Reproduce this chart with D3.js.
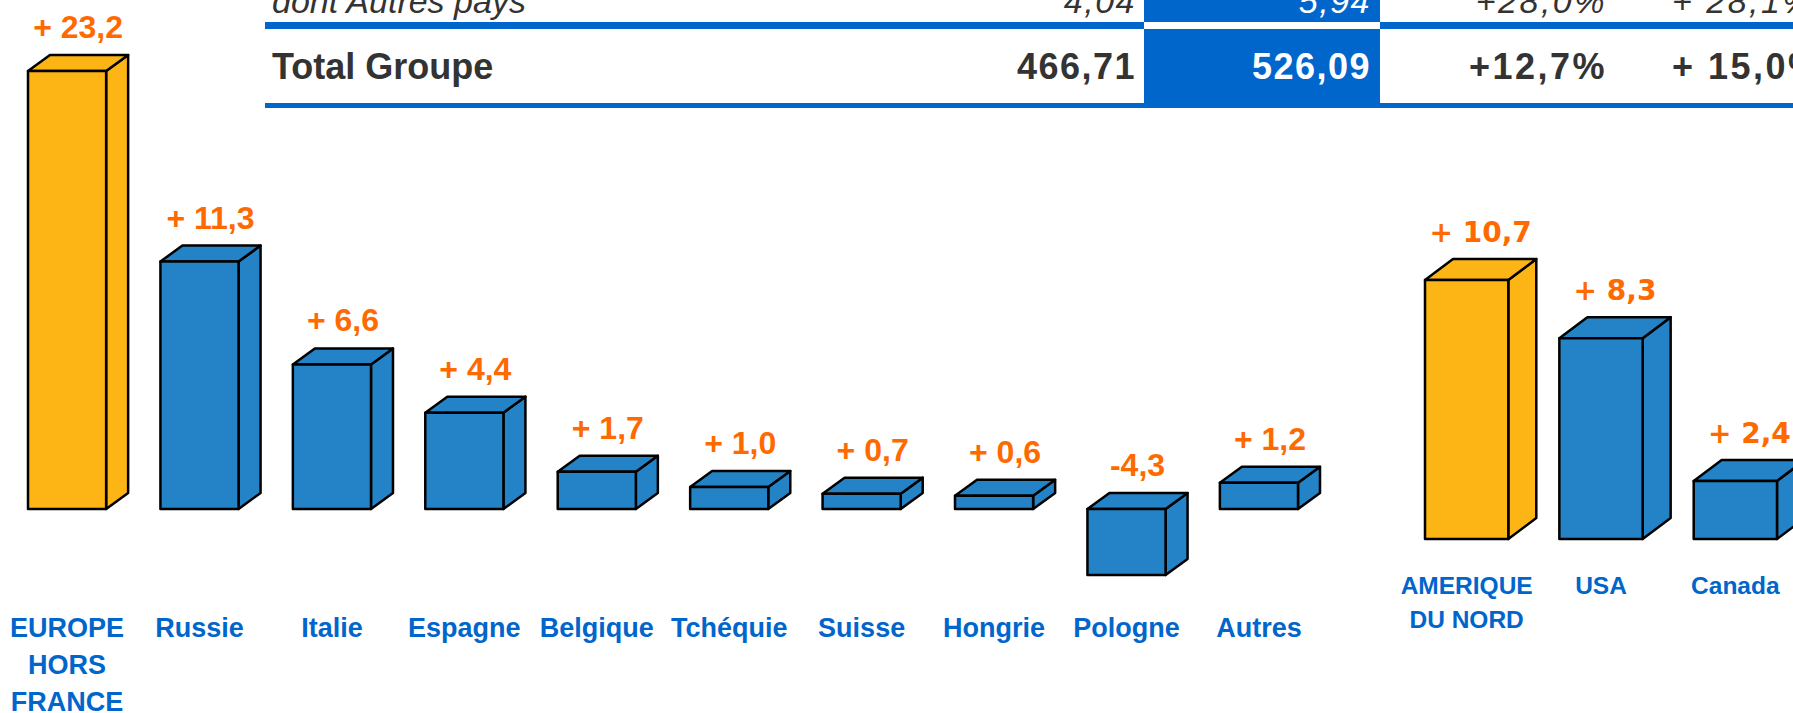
<!DOCTYPE html>
<html>
<head>
<meta charset="utf-8">
<script src="https://cdn.jsdelivr.net/npm/d3@7/dist/d3.min.js"></script>
<style>
  body { margin: 0; background: #fff; }
  svg { display: block; }
</style>
</head>
<body>
<script>
// Europe bars (left block)
const europeCats = ['EUROPE\nHORS\nFRANCE', 'Russie', 'Italie', 'Espagne', 'Belgique', 'Tchéquie', 'Suisse', 'Hongrie', 'Pologne', 'Autres'];
const europeValues = [23.2, 11.3, 6.6, 4.4, 1.7, 1.0, 0.7, 0.6, -4.3, 1.2];
const europeTotal = [true, false, false, false, false, false, false, false, false, false];

// North America bars (right block)
const americaCats = ['AMERIQUE\nDU NORD', 'USA', 'Canada'];
const americaValues = [10.7, 8.3, 2.4];
const americaTotal = [true, false, false];

// table rows at the top (partly cut off)
const tableLabels = ['dont Autres pays', 'Total Groupe'];
const tableCol1 = ['4,04', '466,71'];
const tableCol2 = ['5,94', '526,09'];
const tableCol3 = ['+28,0%', '+12,7%'];
const tableCol4 = ['+ 28,1%', '+ 15,0%'];

const W = 1793, H = 713;
const yellow = '#FDB515', blue = '#2383C6', orange = '#FF6A00', labelBlue = '#0066CC', tableBlue = '#0066CC', grey = '#333333';
const font = "'Liberation Sans', Arial, sans-serif";
const wideFont = "'DejaVu Sans', Verdana, sans-serif";

const svg = d3.select('body')
  .append('svg')
  .attr('width', W)
  .attr('height', H);

// ---- table ----
const table = svg.append('g');

table.append('rect')
  .attr('x', 1144).attr('y', 0)
  .attr('width', 236).attr('height', 22)
  .attr('fill', tableBlue);
table.append('rect')
  .attr('x', 1144).attr('y', 29)
  .attr('width', 236).attr('height', 79)
  .attr('fill', tableBlue);
table.append('rect')
  .attr('x', 265).attr('y', 22)
  .attr('width', 1144 - 265).attr('height', 7)
  .attr('fill', tableBlue);
table.append('rect')
  .attr('x', 1380).attr('y', 22)
  .attr('width', W - 1380).attr('height', 7)
  .attr('fill', tableBlue);
table.append('rect')
  .attr('x', 265).attr('y', 103)
  .attr('width', W - 265).attr('height', 5)
  .attr('fill', tableBlue);

const rowBase = [13, 79];
const rowStyle = [
  { size: 34, weight: 'normal', style: 'italic' },
  { size: 36, weight: 'bold', style: 'normal' },
];

const cols = [
  { vals: tableLabels, x: 272, anchor: 'start', fill: grey, ls: 0 },
  { vals: tableCol1, x: 1136, anchor: 'end', fill: grey, ls: 1.5 },
  { vals: tableCol2, x: 1371, anchor: 'end', fill: '#fff', ls: 1.5 },
  { vals: tableCol3, x: 1607, anchor: 'end', fill: grey, ls: 2.5 },
  { vals: tableCol4, x: 1672, anchor: 'start', fill: grey, ls: 2.5 },
];

cols.forEach(c => {
  table.selectAll(null)
    .data(c.vals)
    .enter()
    .append('text')
    .attr('x', c.x)
    .attr('y', (d, i) => rowBase[i])
    .attr('text-anchor', c.anchor)
    .attr('fill', c.fill)
    .attr('font-family', font)
    .attr('font-size', (d, i) => rowStyle[i].size)
    .attr('font-weight', (d, i) => rowStyle[i].weight)
    .attr('font-style', (d, i) => rowStyle[i].style)
    .attr('letter-spacing', c.ls)
    .text(d => d);
});

// ---- 3D bars ----
function fmt(v) {
  const s = Math.abs(v).toFixed(1).replace('.', ',');
  return v < 0 ? '-' + s : '+ ' + s;
}

function drawBlock(opts) {
  const data = opts.cats.map((c, i) => ({ cat: c, value: opts.values[i], total: opts.total[i] }));
  const x = opts.x, y = opts.y, dx = opts.dx, dy = opts.dy;
  const bw = x.bandwidth();

  const g = svg.append('g');
  const bar = g.selectAll('g.bar')
    .data(data)
    .enter()
    .append('g')
    .attr('class', 'bar');

  const top = d => Math.min(y(d.value), y(0));
  const bot = d => Math.max(y(d.value), y(0));
  const pts = arr => arr.map(p => p.join(',')).join(' ');

  bar.append('polygon')
    .attr('points', d => {
      const x1 = x(d.cat) + bw;
      return pts([[x1, top(d)], [x1 + dx, top(d) - dy], [x1 + dx, bot(d) - dy], [x1, bot(d)]]);
    });

  bar.append('polygon')
    .attr('points', d => {
      const x0 = x(d.cat), x1 = x0 + bw;
      return pts([[x0, top(d)], [x0 + dx, top(d) - dy], [x1 + dx, top(d) - dy], [x1, top(d)]]);
    });

  bar.append('rect')
    .attr('x', d => x(d.cat))
    .attr('y', d => top(d))
    .attr('width', bw)
    .attr('height', d => bot(d) - top(d));

  bar.selectAll('polygon, rect')
    .attr('fill', d => d.total ? yellow : blue)
    .attr('stroke', '#000')
    .attr('stroke-width', 2.5)
    .attr('stroke-linejoin', 'round');

  bar.append('text')
    .attr('x', d => x(d.cat) + bw / 2 + dx / 2)
    .attr('y', d => top(d) - dy - 17)
    .attr('text-anchor', 'middle')
    .attr('fill', orange)
    .attr('font-family', opts.valueFont)
    .attr('font-weight', 'bold')
    .attr('font-size', opts.valueSize)
    .text(d => fmt(d.value));

  const lab = bar.append('text')
    .attr('text-anchor', 'middle')
    .attr('fill', labelBlue)
    .attr('font-family', font)
    .attr('font-weight', 'bold')
    .attr('font-size', opts.labelSize);

  lab.selectAll('tspan')
    .data(d => d.cat.split('\n').map(t => ({ t, cx: x(d.cat) + bw / 2 })))
    .enter()
    .append('tspan')
    .attr('x', d => d.cx)
    .attr('y', (d, i) => opts.labelY + i * opts.lineH)
    .text(d => d.t);
}

const xEurope = d3.scaleBand()
  .domain(europeCats)
  .range([28, 1298])
  .paddingInner(0.41)
  .paddingOuter(0);

// the tall total bar is cut at the top of the plot, negative side is compressed
const yEurope = d3.scaleLinear()
  .domain([-10, 0, 20])
  .range([509 + 153.5, 509, 71])
  .clamp(true);

drawBlock({
  cats: europeCats, values: europeValues, total: europeTotal,
  x: xEurope, y: yEurope, dx: 22, dy: 16,
  valueFont: font, valueSize: 32, labelSize: 27, labelY: 637, lineH: 37,
});

const xAmerica = d3.scaleBand()
  .domain(americaCats)
  .range([1425, 1777])
  .paddingInner(0.38)
  .paddingOuter(0);

const yAmerica = d3.scaleLinear()
  .domain([0, 10])
  .range([539, 297]);

drawBlock({
  cats: americaCats, values: americaValues, total: americaTotal,
  x: xAmerica, y: yAmerica, dx: 28, dy: 21,
  valueFont: wideFont, valueSize: 28, labelSize: 24.5, labelY: 594, lineH: 33.5,
});
</script>
</body>
</html>
